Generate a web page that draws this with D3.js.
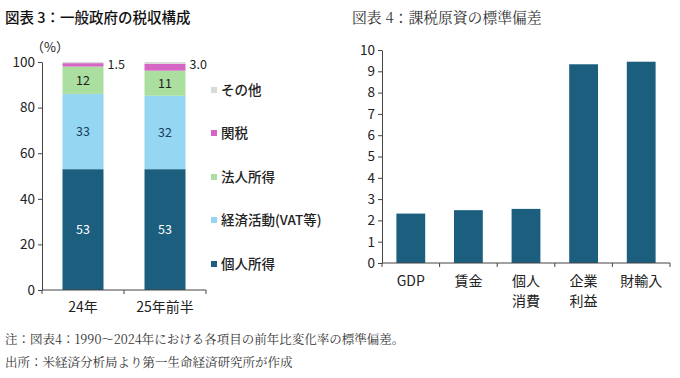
<!DOCTYPE html>
<html><head><meta charset="utf-8">
<script src="https://cdn.jsdelivr.net/npm/d3@7"></script>
<style>
body{margin:0;background:#fff;}
svg{display:block;}
text{font-family:"Noto Sans CJK JP","Noto Sans",sans-serif;}
.serif{font-family:"Noto Serif CJK JP","Noto Sans CJK JP",serif;}
</style></head><body>
<svg id="c" width="680" height="378"></svg>
<script>
// ---- Data: chart 3 (stacked) ----
const periods = ["24年", "25年前半"];
const seriesNames = ["個人所得", "経済活動(VAT等)", "法人所得", "関税", "その他"];
const personalIncome = [53, 53];
const consumption = [33, 32.2];
const corporate = [12, 11.0];
const tariffs = [1.5, 3.0];
const others = [0.5, 0.8];
const segLabels = [["53","53"],["33","32"],["12","11"],["1.5","3.0"],["",""]];
const leftTicks = [0, 20, 40, 60, 80, 100];
// ---- Data: chart 4 ----
const items = [["GDP"], ["賃金"], ["個人","消費"], ["企業","利益"], ["財輸入"]];
const stdDev = [2.32, 2.48, 2.54, 9.33, 9.45];
const rightTicks = [0,1,2,3,4,5,6,7,8,9,10];

const colors = ["#1b5e7e", "#95d6f2", "#abdf9f", "#d566c6", "#d9d9d9"];
const svg = d3.select("#c");

// Titles
svg.append("text").attr("x",5).attr("y",23).attr("font-size",14.5).attr("font-weight",500).attr("fill","#111").text("図表 3：一般政府の税収構成");
svg.append("text").attr("class","serif").attr("x",352).attr("y",23).attr("font-size",14.8).attr("fill","#333").text("図表 4：課税原資の標準偏差");

// ---- Left chart ----
const L = {x0:42, x1:206, y0:290, y1:62};
const xL = d3.scaleBand().domain(periods).range([L.x0, L.x1]).paddingInner(0.5).paddingOuter(0.25);
const yL = d3.scaleLinear().domain([0,100]).range([L.y0, L.y1]);
const seriesVals = [personalIncome, consumption, corporate, tariffs, others];
const rows = periods.map((p,i)=>{const o={period:p}; seriesNames.forEach((s,j)=>o[s]=seriesVals[j][i]); return o;});
const stack = d3.stack().keys(seriesNames)(rows);

const gL = svg.append("g");
stack.forEach((layer,j)=>{
  gL.selectAll(null).data(layer).enter().append("rect")
    .attr("x",d=>xL(d.data.period)).attr("width",xL.bandwidth())
    .attr("y",d=>yL(d[1])).attr("height",d=>yL(d[0])-yL(d[1]))
    .attr("fill",colors[j]);
});
// segment labels inside
[0,1,2].forEach(j=>{
  gL.selectAll(null).data(stack[j]).enter().append("text")
    .attr("x",d=>xL(d.data.period)+xL.bandwidth()/2)
    .attr("y",d=>yL((d[0]+d[1])/2))
    .attr("dy","0.35em").attr("text-anchor","middle").attr("font-size",12.5)
    .attr("font-family","Liberation Sans, Arial, sans-serif")
    .attr("fill", j===0 ? "#fff" : (j===1 ? "#1b3f5e" : "#222"))
    .text((d,i)=>segLabels[j][i]);
});
// tariff labels outside
gL.selectAll(null).data(stack[3]).enter().append("text")
  .attr("x",d=>xL(d.data.period)+xL.bandwidth()+4)
  .attr("y",d=>yL(d[1])+1).attr("dy","0.35em").attr("font-size",12.5)
  .attr("font-family","Liberation Sans, Arial, sans-serif").attr("fill","#222")
  .text((d,i)=>segLabels[3][i]);

// axes
const yAxL = d3.axisLeft(yL).tickValues(leftTicks).tickSize(4).tickSizeOuter(0);
const gyL = svg.append("g").attr("transform",`translate(${L.x0},0)`).call(yAxL);
gyL.selectAll("text").attr("font-size",13.5).attr("fill","#222").attr("font-family","Liberation Sans, Arial, sans-serif");
gyL.select(".domain").attr("stroke","#444");
gyL.selectAll(".tick line").attr("stroke","#444");
// x-axis with ticks at band edges
svg.append("line").attr("x1",L.x0).attr("x2",L.x1).attr("y1",L.y0).attr("y2",L.y0).attr("stroke","#444");
const edgesL = [L.x0, (xL(periods[0])+xL.bandwidth()+xL(periods[1]))/2, L.x1];
svg.selectAll(null).data(edgesL).enter().append("line")
  .attr("x1",d=>d).attr("x2",d=>d).attr("y1",L.y0).attr("y2",L.y0+4).attr("stroke","#444");
svg.selectAll(null).data(periods).enter().append("text")
  .attr("x",d=>xL(d)+xL.bandwidth()/2).attr("y",312).attr("text-anchor","middle")
  .attr("font-size",14).attr("fill","#222").text(d=>d);
svg.append("text").attr("x",50).attr("y",52).attr("text-anchor","middle").attr("font-size",13).attr("fill","#222").text("（%）");

// legend
const legendOrder = [4,3,2,1,0];
const legY = [90, 133, 177, 220, 264];
legendOrder.forEach((j,k)=>{
  svg.append("rect").attr("x",211).attr("y",legY[k]-3).attr("width",6).attr("height",6).attr("fill",colors[j]);
  svg.append("text").attr("x",221).attr("y",legY[k]).attr("dy","0.35em").attr("font-size",13.5).attr("font-weight",500).attr("fill","#222").text(seriesNames[j]);
});

// ---- Right chart ----
const R = {x0:382, x1:670, y0:263, y1:50};
const xR = d3.scaleBand().domain(items.map(d=>d.join(""))).range([R.x0,R.x1]).paddingInner(0.5).paddingOuter(0.25);
const yR = d3.scaleLinear().domain([0,10]).range([R.y0,R.y1]);
svg.append("g").selectAll("rect").data(stdDev).enter().append("rect")
  .attr("x",(d,i)=>xR(items[i].join(""))).attr("width",xR.bandwidth())
  .attr("y",d=>yR(d)).attr("height",d=>yR(0)-yR(d)).attr("fill",colors[0]);
const gyR = svg.append("g").attr("transform",`translate(${R.x0},0)`).call(d3.axisLeft(yR).tickValues(rightTicks).tickSize(4).tickSizeOuter(0));
gyR.selectAll("text").attr("font-size",13.5).attr("fill","#222").attr("font-family","Liberation Sans, Arial, sans-serif");
gyR.select(".domain").attr("stroke","#444");
gyR.selectAll(".tick line").attr("stroke","#444");
svg.append("line").attr("x1",R.x0).attr("x2",R.x1).attr("y1",R.y0).attr("y2",R.y0).attr("stroke","#444");
const stepR = xR.step();
const edgesR = d3.range(items.length+1).map(i=> i===0 ? R.x0 : (i===items.length ? R.x1 : xR(items[i].join("")) - stepR*0.25));
svg.selectAll(null).data(edgesR).enter().append("line")
  .attr("x1",d=>d).attr("x2",d=>d).attr("y1",R.y0).attr("y2",R.y0+4).attr("stroke","#444");
items.forEach((lines,i)=>{
  const cx = xR(lines.join(""))+xR.bandwidth()/2;
  lines.forEach((t,k)=>{
    svg.append("text").attr("x",cx).attr("y",286+k*20).attr("text-anchor","middle")
      .attr("font-size",14).attr("fill","#222").text(t);
  });
});

// footer
svg.append("text").attr("class","serif").attr("x",5).attr("y",344).attr("font-size",12.5).attr("fill","#333").text("注：図表4：1990～2024年における各項目の前年比変化率の標準偏差。");
svg.append("text").attr("class","serif").attr("x",5).attr("y",367).attr("font-size",12.5).attr("fill","#333").text("出所：米経済分析局より第一生命経済研究所が作成");
</script>
</body></html>
